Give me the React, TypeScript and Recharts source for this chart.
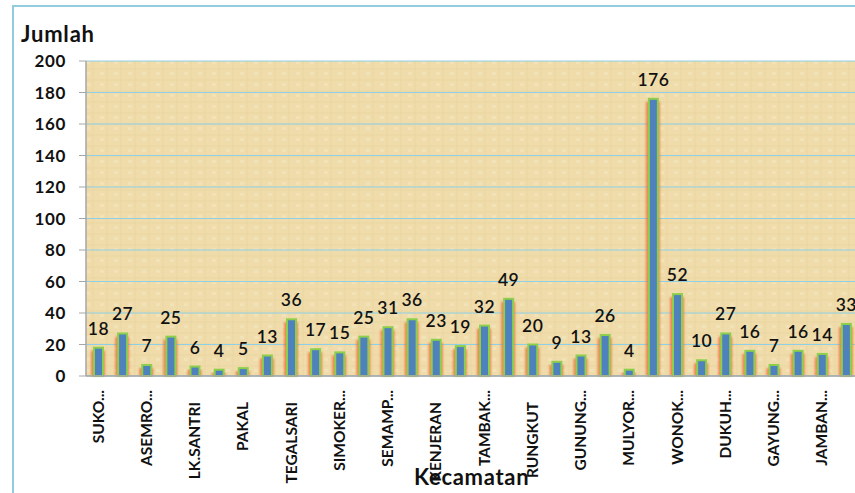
import React from "react";
import { BarChart, Bar, XAxis, YAxis, CartesianGrid, LabelList } from "recharts";

const tickLabels = [
  "SUKO...", "TANDES", "ASEMRO...", "BENOWO", "LK.SANTRI", "SAMBIKEREP", "PAKAL", "BUBUTAN",
  "TEGALSARI", "GENTENG", "SIMOKER...", "PABEAN CANTIAN", "SEMAMP...", "KREMBANGAN", "KENJERAN", "BULAK",
  "TAMBAK...", "GUBENG", "RUNGKUT", "TENGGILIS", "GUNUNG...", "SUKOLILO", "MULYOR...", "SAWAHAN",
  "WONOK...", "KARANG PILANG", "DUKUH...", "WIYUNG", "GAYUNG...", "WONOCOLO", "JAMBAN...", "LAINNYA",
];

const values = [
  18, 27, 7, 25, 6, 4, 5, 13,
  36, 17, 15, 25, 31, 36, 23, 19,
  32, 49, 20, 9, 13, 26, 4, 176,
  52, 10, 27, 16, 7, 16, 14, 33,
];

const yTicks = [0, 20, 40, 60, 80, 100, 120, 140, 160, 180, 200];

const data = tickLabels.map((name, i) => ({ name, value: values[i] }));

const FONT = "Lato, 'Open Sans', sans-serif";

const BarShape = (props: any) => {
  const { x, y, width, height } = props;
  if (height <= 0) return null;
  return (
    <g>
      <rect x={x - 3} y={y + 3} width={width + 5} height={height - 3} fill="#F0602E" opacity={0.7} filter="url(#glow)" />
      <rect x={x} y={y} width={width} height={height} fill="#4F81BD" stroke="#8DCF4B" strokeWidth={2} />
    </g>
  );
};

const XTick = (props: any) => {
  const { x, y, payload } = props;
  const label: string = payload.value;
  const d = label.endsWith("...") ? 6 : 18;
  return (
    <g transform={`translate(${x},${y})`}>
      <text
        transform="rotate(-90)"
        x={-d}
        y={0}
        dy="0.36em"
        textAnchor="end"
        fontFamily={FONT}
        fontWeight="bold"
        fontSize={15.5}
        fill="#111"
      >
        {label}
      </text>
    </g>
  );
};

export default function App() {
  return (
    <div style={{ position: "absolute", left: 0, top: 0, width: 855, height: 493, overflow: "hidden", background: "#fff" }}>
      <svg width={0} height={0} style={{ position: "absolute" }}>
        <defs>
          <filter id="glow" x="-50%" y="-5%" width="200%" height="110%">
            <feGaussianBlur stdDeviation="1" />
          </filter>
          <pattern id="paper" width="14" height="11" patternUnits="userSpaceOnUse">
            <rect width="14" height="11" fill="#EFDCAA" />
            <line x1="0" y1="3" x2="14" y2="3" stroke="#E6CE98" strokeWidth="1" opacity="0.45" />
            <line x1="9" y1="0" x2="9" y2="11" stroke="#E6CE98" strokeWidth="1" opacity="0.45" />
            <rect x="2" y="6" width="4" height="3" fill="#F6E8C4" opacity="0.5" />
          </pattern>
        </defs>
      </svg>
      <div
        style={{
          position: "absolute",
          left: 12,
          top: 5,
          width: 900,
          height: 600,
          border: "2px solid #93CDDD",
          boxSizing: "border-box",
        }}
      />
      <div style={{ position: "absolute", left: 0, top: 0 }}>
        <BarChart
          width={858}
          height={493}
          data={data}
          margin={{ top: 61, right: 0, bottom: 7, left: 11 }}
          barCategoryGap="55%"
        >
          <CartesianGrid vertical={false} stroke="#8CCFE6" strokeWidth={1} fill="url(#paper)" />
          <XAxis
            dataKey="name"
            interval={1}
            height={110}
            tickLine={false}
            axisLine={{ stroke: "#A6A6A6", strokeWidth: 1.5 }}
            tick={<XTick />}
          />
          <YAxis
            width={75}
            domain={[0, 200]}
            ticks={yTicks}
            interval={0}
            tickSize={7}
            tickMargin={13}
            axisLine={{ stroke: "#A6A6A6", strokeWidth: 1.5 }}
            tickLine={{ stroke: "#A6A6A6" }}
            tick={{ fontFamily: FONT, fontWeight: "bold", fontSize: 17, fill: "#111", letterSpacing: 0.6 }}
          />
          <Bar dataKey="value" barSize={9} isAnimationActive={false} shape={<BarShape />}>
            <LabelList
              dataKey="value"
              position="top"
              offset={13}
              style={{ fontFamily: FONT, fontWeight: 600, fontSize: 17.5, fill: "#111", letterSpacing: 0.5 }}
            />
          </Bar>
        </BarChart>
      </div>
      <div style={{ position: "absolute", left: 21, top: 21, fontFamily: FONT, fontWeight: "bold", fontSize: 22, color: "#111", lineHeight: "26px", letterSpacing: 0.8 }}>
        Jumlah
      </div>
      <div style={{ position: "absolute", left: 414, top: 464, fontFamily: FONT, fontWeight: "bold", fontSize: 22, color: "#111", lineHeight: "26px", letterSpacing: 0.7 }}>
        Kecamatan
      </div>
    </div>
  );
}
